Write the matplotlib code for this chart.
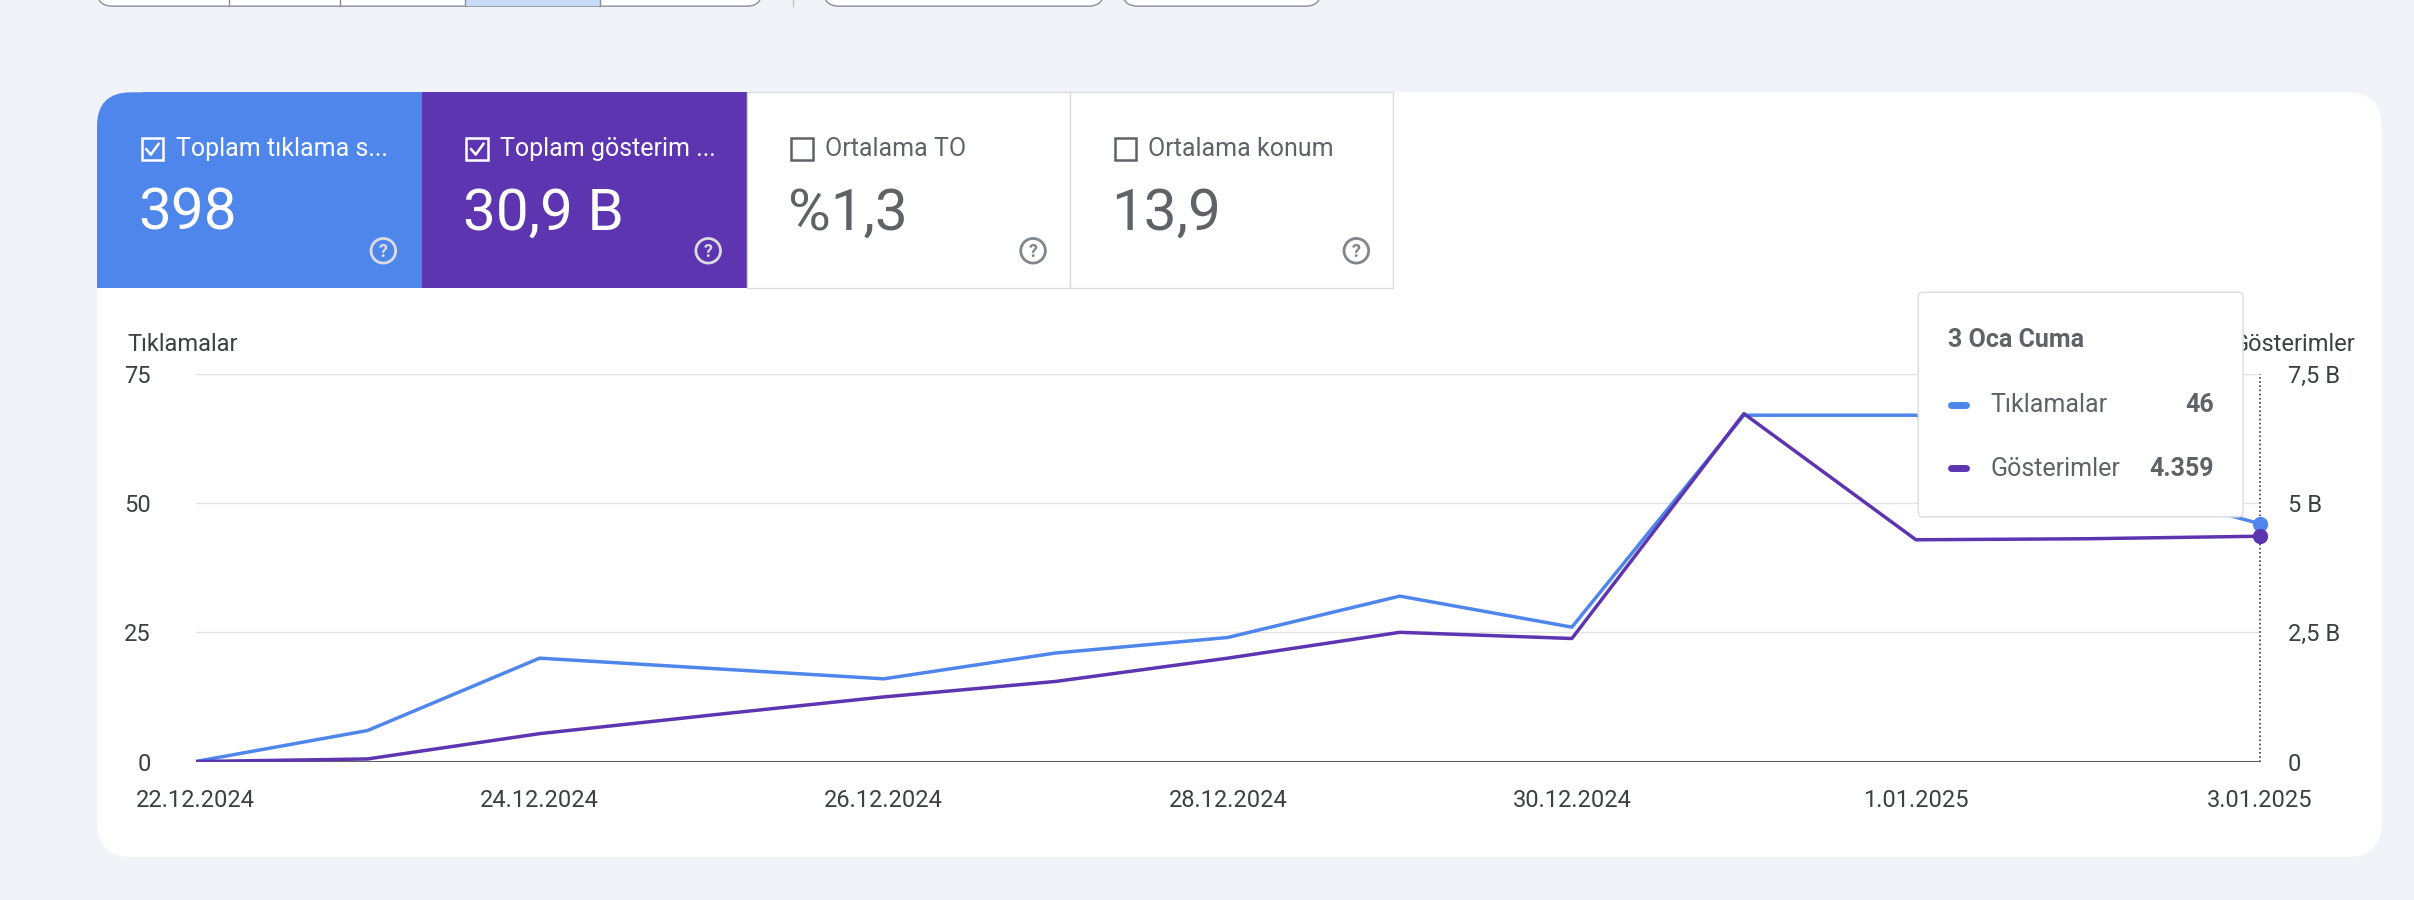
import matplotlib
matplotlib.use("Agg")
import matplotlib.pyplot as plt
from matplotlib.patches import FancyBboxPatch, Rectangle
import numpy as np

plt.rcParams['font.family'] = ['Roboto', 'DejaVu Sans']

dates = ["22.12.2024","23.12","24.12.2024","25.12","26.12.2024","27.12","28.12.2024","29.12","30.12.2024","31.12","1.01.2025","2.01","3.01.2025"]
tick_labels = ["22.12.2024","24.12.2024","26.12.2024","28.12.2024","30.12.2024","1.01.2025","3.01.2025"]
clicks = [0, 6, 20, 18, 16, 21, 24, 32, 26, 67, 67, 55, 46]
impressions = [0, 0.05, 0.54, 0.9, 1.25, 1.55, 2.0, 2.5, 2.38, 6.73, 4.29, 4.31, 4.359]
cards = [("Toplam tıklama s...", "398", True, "#4f86ec"),
         ("Toplam gösterim ...", "30,9 B", True, "#5e35b1"),
         ("Ortalama TO", "%1,3", False, "white"),
         ("Ortalama konum", "13,9", False, "white")]

W, H = 1568, 585
fig = plt.figure(figsize=(24.14, 9), dpi=100)
fig.patch.set_facecolor("#f0f4f9")
bg = fig.add_axes([0, 0, 1, 1]); bg.set_xlim(0, W); bg.set_ylim(H, 0); bg.axis("off")

# top controls
for x0, x1 in [(63, 495), (535, 717), (729, 858)]:
    bg.add_patch(FancyBboxPatch((x0, -20), x1 - x0, 24, boxstyle="round,pad=0,rounding_size=10",
                                fc="white", ec="#8a8f98", lw=1))
for xs in [149, 221, 302, 390]:
    bg.plot([xs, xs], [0, 4], color="#8a8f98", lw=1)
bg.add_patch(Rectangle((303, 0), 87, 4, fc="#c9dcf7", ec="none"))
bg.plot([515, 515], [0, 4], color="#c0c4c9", lw=1)

# card
bg.add_patch(FancyBboxPatch((63, 60), 1484, 497, boxstyle="round,pad=0,rounding_size=22",
                            fc="white", ec="none"))
for i, (lab, val, on, col) in enumerate(cards):
    x0 = 63 + i * 211 if i < 2 else 485 + (i - 2) * 210
    w = 211 if i < 2 else 210
    if on:
        if i == 0:
            bg.add_patch(FancyBboxPatch((x0, 60), w, 127, boxstyle="round,pad=0,rounding_size=22", fc=col, ec="none"))
            bg.add_patch(Rectangle((x0 + 30, 60), w - 30, 127, fc=col, ec="none"))
            bg.add_patch(Rectangle((x0, 100), w, 87, fc=col, ec="none"))
        else:
            bg.add_patch(Rectangle((x0, 60), w, 127, fc=col, ec="none"))
        tc = "white"; cc = "white"
    else:
        bg.add_patch(Rectangle((x0, 60), w, 127, fc="white", ec="#dadce0", lw=1))
        tc = "#5f6368"; cc = "#5f6368"
    bg.add_patch(Rectangle((x0 + 29, 90), 14, 14, fc="none", ec=cc, lw=1.8))
    if on:
        bg.plot([x0 + 32, x0 + 35, x0 + 40], [97, 100.5, 93.5], color="white", lw=1.8)
    bg.text(x0 + 51, 97, lab, color=tc, fontsize=18, va="center")
    bg.text(x0 + 27, 139, val, color=tc, fontsize=42, va="center")
    ic = "#dadce0" if on else "#80868b"
    bg.add_patch(plt.Circle((x0 + 186, 163), 8, fc="none", ec=ic, lw=2))
    bg.text(x0 + 186, 163.5, "?", color=ic, fontsize=13, ha="center", va="center", fontweight="bold")

bg.text(83, 224, "Tıklamalar", fontsize=17, color="#3c4043", va="center")
bg.text(1530, 224, "Gösterimler", fontsize=17, color="#3c4043", va="center", ha="right")

ax = fig.add_axes([127 / W, 1 - 495 / H, (1468 - 127) / W, (495 - 243) / H])
ax.set_facecolor("none")
x = np.arange(len(dates))
ax.plot(x, clicks, color="#4f86ec", lw=2.5, zorder=3)
ax2 = ax.twinx()
ax2.plot(x, impressions, color="#5e35b1", lw=2.5, zorder=3)
ax.set_xlim(0, 12); ax.set_ylim(0, 75); ax2.set_ylim(0, 7.5)
ax.set_yticks([0, 25, 50, 75]); ax2.set_yticks([0, 2.5, 5, 7.5])
ax2.set_yticklabels(["0", "2,5 B", "5 B", "7,5 B"])
ax.set_xticks(x[::2]); ax.set_xticklabels(tick_labels)
for a in (ax, ax2):
    for s in a.spines.values(): s.set_visible(False)
    a.tick_params(length=0, labelsize=17, colors="#3c4043")
ax.tick_params(axis="x", pad=20)
ax.tick_params(axis="y", pad=32)
ax2.tick_params(axis="y", pad=20)
ax.grid(axis="y", color="#e3e3e3", lw=1)
ax.axhline(0, color="#5f6368", lw=1.5)
ax.axvline(12, color="#3c4043", lw=1.2, ls=(0, (1, 1.5)), clip_on=False, zorder=4)
ax.plot([12], [clicks[-1]], "o", color="#4f86ec", ms=10, clip_on=False, zorder=5)
ax2.plot([12], [impressions[-1]], "o", color="#5e35b1", ms=10, clip_on=False, zorder=5)

# tooltip
tt = fig.add_axes([0, 0, 1, 1], zorder=10); tt.set_xlim(0, W); tt.set_ylim(H, 0); tt.axis("off")
tt.add_patch(FancyBboxPatch((1246, 190), 211, 146, boxstyle="round,pad=0,rounding_size=3",
                            fc="white", ec="#dadce0", lw=1))
tt.text(1265, 221, "3 Oca Cuma", fontsize=18, fontweight="bold", color="#5f6368", va="center")
tt.plot([1267, 1277], [263, 263], color="#4f86ec", lw=5, solid_capstyle="round")
tt.text(1293, 263, "Tıklamalar", fontsize=18, color="#5f6368", va="center")
tt.text(1438, 263, "46", fontsize=18, color="#5f6368", va="center", ha="right", fontweight="bold")
tt.plot([1267, 1277], [304, 304], color="#5e35b1", lw=5, solid_capstyle="round")
tt.text(1293, 305, "Gösterimler", fontsize=18, color="#5f6368", va="center")
tt.text(1438, 305, "4.359", fontsize=18, color="#5f6368", va="center", ha="right", fontweight="bold")

fig.savefig("out.png", dpi=100, facecolor=fig.get_facecolor())
